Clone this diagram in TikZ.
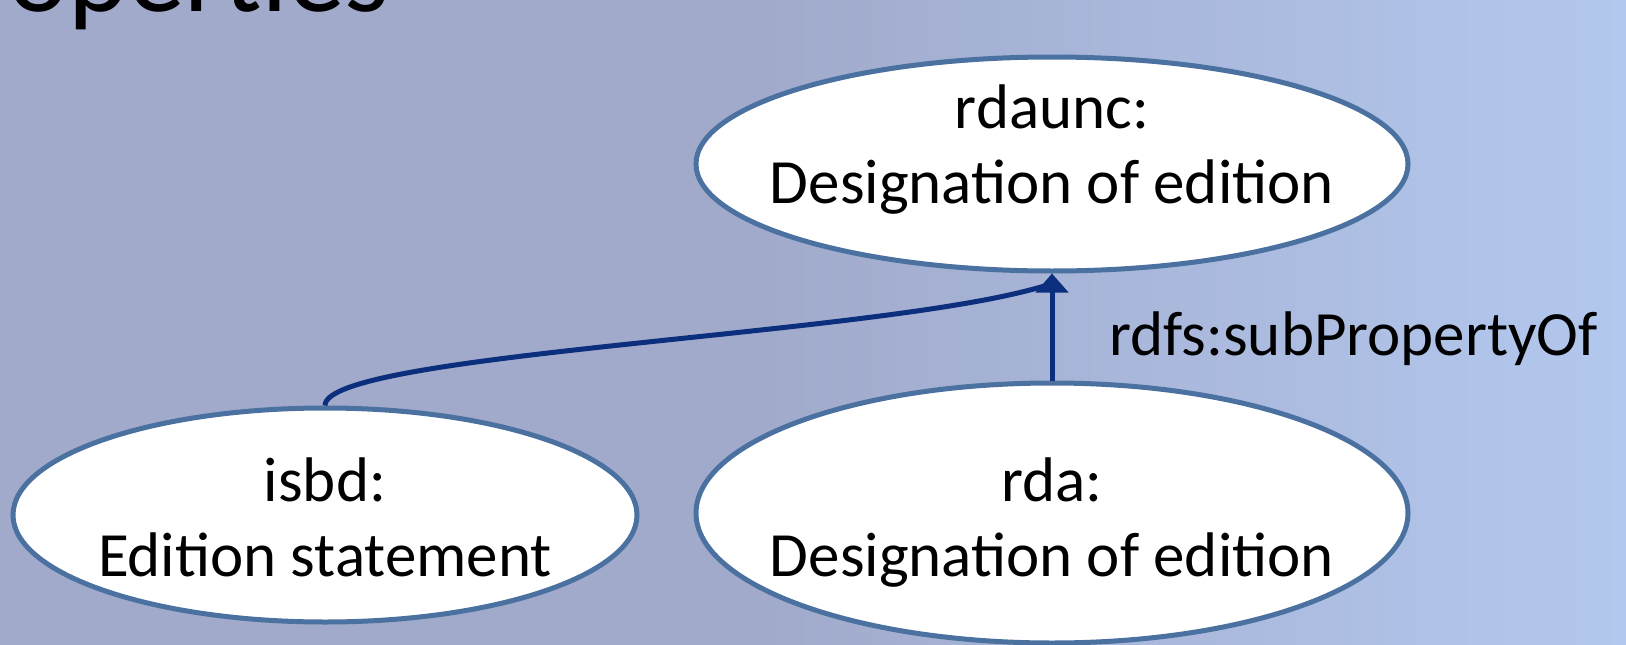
\documentclass[tikz,border=0pt]{standalone}
\usepackage{fontspec}
\setmainfont{Carlito}
\usetikzlibrary{shapes.geometric,arrows.meta}
\definecolor{bgleft}{HTML}{A1AACB}
\definecolor{bgright}{HTML}{B3C8EE}
\definecolor{ellborder}{HTML}{4A71A0}
\definecolor{arrowblue}{HTML}{0B2F7C}
\begin{document}
\begin{tikzpicture}[x=1pt,y=-1pt,
  ell/.style={ellipse, draw=ellborder, fill=white, line width=5pt, inner sep=0pt},
  txt/.style={align=center, font=\fontsize{63}{75}\selectfont, inner sep=0pt},
  conn/.style={draw=arrowblue, line width=5pt},
  tip/.style={-{Triangle[width=32pt,length=19pt]}}
  ]
\useasboundingbox (0,0) rectangle (1626,645);
\clip (0,0) rectangle (1626,645);
\fill[bgleft] (0,0) rectangle (1626,645);
\shade[left color=bgleft, right color=bgright] (760,0) rectangle (1626,645);

\node[anchor=base west, inner sep=0pt, font=\fontsize{114}{130}\selectfont] (title) at (8,11) {operties};

\node[ell, minimum width=712pt, minimum height=214pt] (rdaunc) at (1052,164) {};
\node[ell, minimum width=624pt, minimum height=214pt] (isbd) at (325,515) {};
\node[ell, minimum width=712pt, minimum height=260pt] (rda) at (1052,513) {};

\node[txt] (rdaunctext) at (1052,149.5) {rdaunc:\\Designation of edition};
\node[txt] (isbdtext) at (325,517.5) {isbd:\\Edition statement};
\node[txt] (rdatext) at (1052,523) {rda:\\Designation of edition};

\node[txt, anchor=base west] (lbl) at (1109,355) {rdfs:subPropertyOf};

\draw[conn] (isbd.north) .. controls (325,352) and (900,335) .. ([yshift=-10pt]rdaunc.south);
\draw[conn, tip] (rda.north) -- (rdaunc.south);
\end{tikzpicture}
\end{document}
